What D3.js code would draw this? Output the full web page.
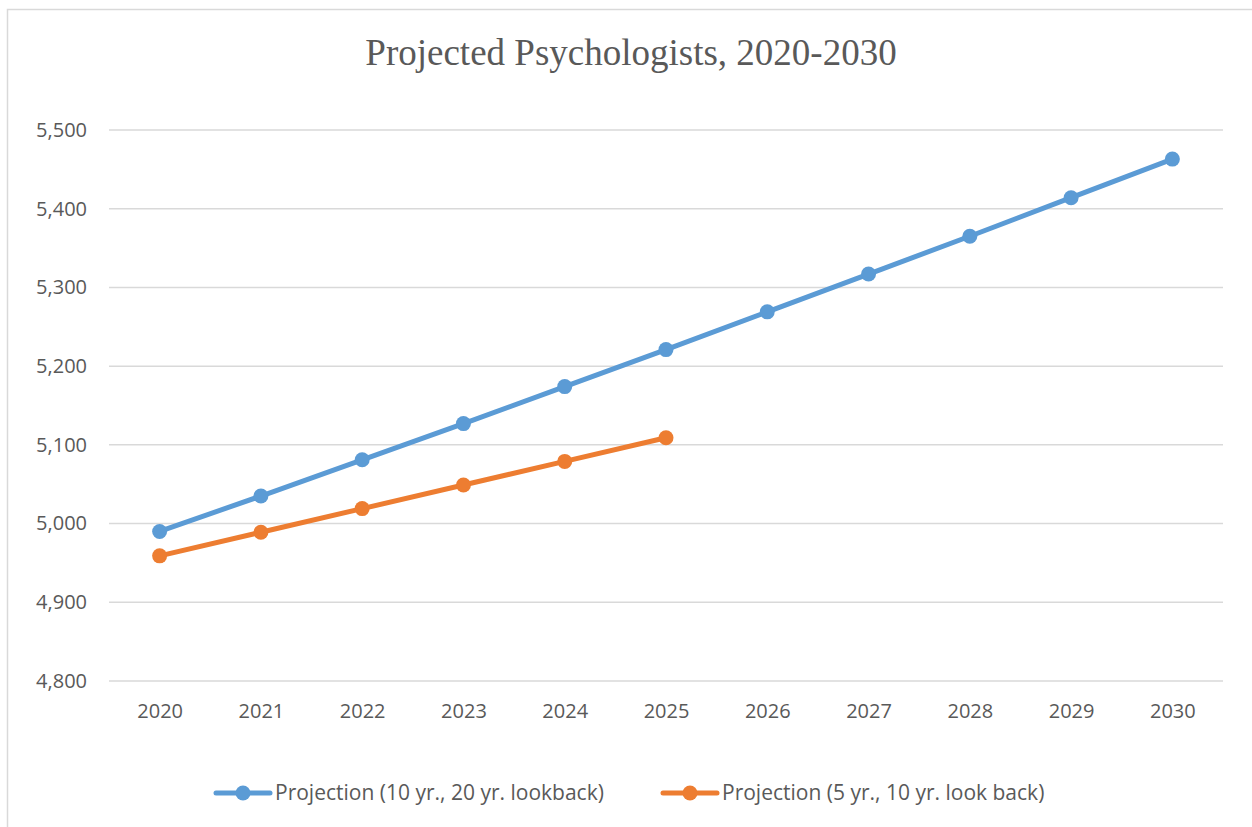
<!DOCTYPE html>
<html>
<head>
<meta charset="utf-8">
<script src="https://cdn.jsdelivr.net/npm/d3@7"></script>
<style>
  body { margin: 0; background: #fff; }
  text { font-family: "Open Sans", sans-serif; fill: #595959; }
</style>
</head>
<body>
<script>
var years = ['2020','2021','2022','2023','2024','2025','2026','2027','2028','2029','2030']
var proj20 = [4990, 5035, 5081, 5127, 5174, 5221, 5269, 5317, 5365, 5414, 5463]
var proj10 = [4959, 4989, 5019, 5049, 5079, 5109]
var yTicks = [4800, 4900, 5000, 5100, 5200, 5300, 5400, 5500]
var seriesNames = ['Projection (10 yr., 20 yr. lookback)', 'Projection (5 yr., 10 yr. look back)']
var colors = ['#5b9bd5', '#ed7d31']

var wdt = 1252, hgt = 827
var svg = d3.select(document.body).append('svg')
  .attr('width', wdt).attr('height', hgt)

// chart frame
svg.append('rect')
  .attr('x', 7.5).attr('y', 9.5)
  .attr('width', wdt + 10).attr('height', hgt + 10)
  .attr('fill', 'white').attr('stroke', '#d9d9d9').attr('stroke-width', 1.5)

var plotL = 109, plotR = 1223, plotT = 130, plotB = 681

var x = d3.scalePoint().domain(years).range([plotL, plotR]).padding(0.5)
var y = d3.scaleLinear().domain([4800, 5500]).range([plotB, plotT])

svg.append('text')
  .attr('x', 631).attr('y', 65)
  .attr('text-anchor', 'middle')
  .style('font-family', '"Liberation Serif", "Times New Roman", serif')
  .style('font-size', '37px')
  .text('Projected Psychologists, 2020-2030')

// gridlines
svg.append('g').selectAll('line').data(yTicks).enter().append('line')
  .attr('x1', plotL).attr('x2', plotR)
  .attr('y1', function(d) { return y(d) })
  .attr('y2', function(d) { return y(d) })
  .attr('stroke', '#d9d9d9').attr('stroke-width', 1.5)

// y axis labels
var yAxis = svg.append('g')
  .attr('transform', 'translate(' + (plotL - 22) + ',0)')
  .call(d3.axisLeft(y).tickValues(yTicks).tickSize(0).tickPadding(0).tickFormat(d3.format(',')))
yAxis.select('.domain').remove()
yAxis.selectAll('text').style('font-size', '20px').style('fill', '#595959').attr('font-family', null)

// x axis labels
var xAxis = svg.append('g')
  .attr('transform', 'translate(0,' + (plotB + 23) + ')')
  .call(d3.axisBottom(x).tickSize(0).tickPadding(0))
xAxis.select('.domain').remove()
xAxis.selectAll('text').style('font-size', '20px').style('fill', '#595959').attr('font-family', null)

var line = d3.line()
  .x(function(d, i) { return x(years[i]) })
  .y(function(d) { return y(d) })

var allSeries = [proj20, proj10]
allSeries.forEach(function(s, k) {
  svg.append('path')
    .attr('d', line(s))
    .attr('fill', 'none')
    .attr('stroke', colors[k])
    .attr('stroke-width', 5)
    .attr('stroke-linejoin', 'round')
    .attr('stroke-linecap', 'round')
  svg.append('g').selectAll('circle').data(s).enter().append('circle')
    .attr('cx', function(d, i) { return x(years[i]) })
    .attr('cy', function(d) { return y(d) })
    .attr('r', 7.5)
    .attr('fill', colors[k])
})

// legend
var legX = [216, 663]
seriesNames.forEach(function(name, k) {
  var g = svg.append('g').attr('transform', 'translate(' + legX[k] + ',793)')
  g.append('line').attr('x1', 0).attr('x2', 54).attr('y1', 0).attr('y2', 0)
    .attr('stroke', colors[k]).attr('stroke-width', 5).attr('stroke-linecap', 'round')
  g.append('circle').attr('cx', 27).attr('cy', 0).attr('r', 7.5).attr('fill', colors[k])
  g.append('text').attr('x', 59).attr('y', 0).attr('dy', '0.35em')
    .style('font-size', '21px').text(name)
})
</script>
</body>
</html>
